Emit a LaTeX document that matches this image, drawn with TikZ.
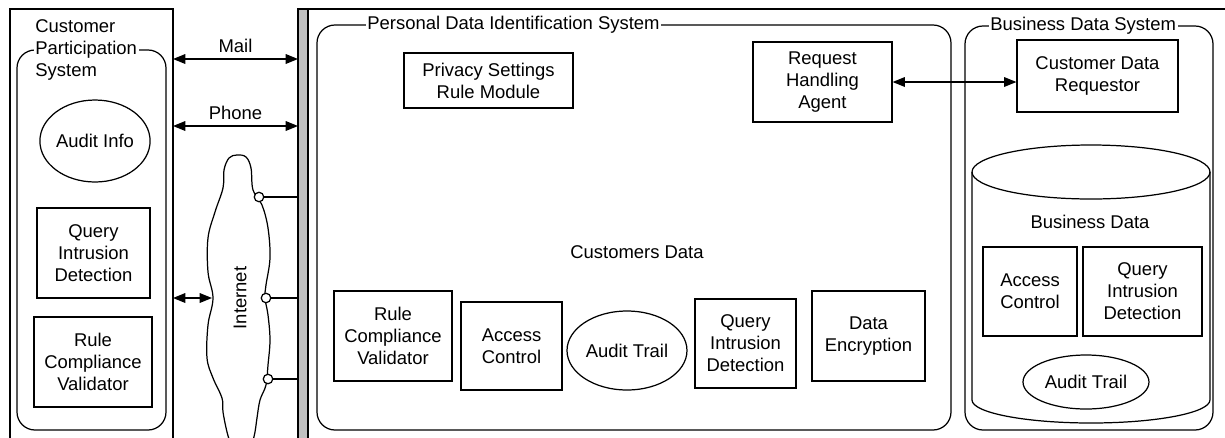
\documentclass[tikz,border=0pt]{standalone}
\usepackage{fontspec}
\setmainfont{Liberation Sans}
\usetikzlibrary{positioning,arrows.meta,shapes.geometric}
\definecolor{bargray}{RGB}{192,192,192}

\begin{document}
\begin{tikzpicture}[x=0.02cm,y=-0.02cm,>={Triangle[length=7pt,width=5.5pt]},
        line width=0.7pt,font=\fontsize{10.5}{12.6}\selectfont,
        main node/.style={rectangle,draw,align=center,inner sep=0pt},
        oval node/.style={ellipse,draw,align=center,inner sep=0pt},
        group/.style={draw,rounded corners=0.36cm},
        group label/.style={fill=white,inner sep=1pt,anchor=west},
        port/.style={circle,draw,fill=white,minimum size=0.19cm,inner sep=0pt}]

    \useasboundingbox (0,0) rectangle (1225,437);
    \clip (0,0) rectangle (1225,437);

    % frames and gray wall
    \draw (10,445) -- (10,9) -- (173,9) -- (173,445);
    \draw[fill=bargray] (298,445) -- (298,9) -- (308,9) -- (308,445);
    \draw (308,9) -- (1230,9);

    % customer participation system
    \draw[group] (17,430) rectangle (166,50);
    \node[group label,align=left] (cps) at (33,50) {Customer\\Participation\\System};
    \node[oval node,minimum width=2.08cm,minimum height=1.64cm] (auditinfo) at (95,141) {Audit Info};
    \node[main node,minimum width=2.26cm,minimum height=1.8cm] (qidL) at (93.5,253) {Query\\Intrusion\\Detection};
    \node[main node,minimum width=2.36cm,minimum height=1.8cm] (rcvL) at (93,362) {Rule\\Compliance\\Validator};

    % personal data identification system
    \draw[group] (317,25) rectangle (951,430);
    \node[group label] (pdis) at (365,25) {Personal Data Identification System};
    \node[main node,minimum width=3.38cm,minimum height=1.1cm] (privacy) at (488.5,80.5) {Privacy Settings\\Rule Module};
    \node[main node,minimum width=2.78cm,minimum height=1.6cm] (rha) at (822.5,82) {Request\\Handling\\Agent};
    \node (custdata) at (637,252) {Customers Data};
    \node[main node,minimum width=2.36cm,minimum height=1.8cm] (rcv) at (393,336) {Rule\\Compliance\\Validator};
    \node[main node,minimum width=2.02cm,minimum height=1.76cm] (ac) at (511.5,346) {Access\\Control};
    \node[oval node,minimum width=2.4cm,minimum height=1.58cm] (trail) at (627,350.5) {Audit Trail};
    \node[main node,minimum width=2.02cm,minimum height=1.78cm] (qid) at (745.5,343.5) {Query\\Intrusion\\Detection};
    \node[main node,minimum width=2.26cm,minimum height=1.8cm] (de) at (868.5,336) {Data\\Encryption};

    % business data system
    \draw[group] (965,26) rectangle (1213,430);
    \node[group label] (bds) at (988,26) {Business Data System};
    \node[main node,minimum width=3.22cm,minimum height=1.44cm] (cdr) at (1097.5,76) {Customer Data\\Requestor};
    \draw (1091,172) ellipse [x radius=2.38cm,y radius=0.54cm];
    \draw (972,172) -- (972,400) arc[start angle=180,end angle=360,x radius=2.38cm,y radius=0.46cm] -- (1210,172);
    \node (bizdata) at (1090,222) {Business Data};
    \node[main node,minimum width=1.88cm,minimum height=1.78cm] (bac) at (1030,291.5) {Access\\Control};
    \node[main node,minimum width=2.38cm,minimum height=1.78cm] (bqid) at (1142.5,291.5) {Query\\Intrusion\\Detection};
    \node[oval node,minimum width=2.52cm,minimum height=1.08cm] (btrail) at (1086,382) {Audit Trail};

    % internet cloud
    \draw[fill=white] plot[smooth,tension=0.6] coordinates {(231,445) (227,432) (223,412) (222,398)
        (213,378) (207,358) (208,325) (213,298) (208,272) (208,238) (215,212) (223,188) (224,170)
        (229,158) (237,155) (246,157) (251,168) (253,190) (262,205) (268,228) (270,258) (266,285)
        (265,298) (268,315) (270,340) (268,365) (266,385) (260,400) (257,418) (255,432) (252,445)};
    \node[rotate=90] (internet) at (240,298) {Internet};
    \node[port] (p1) at (259,197) {};
    \node[port] (p2) at (266,298) {};
    \node[port] (p3) at (268,379) {};

    \coordinate (wall) at (298,0);
    \coordinate (mailL) at (173,59);
    \coordinate (phoneL) at (173,126);
    \coordinate (netL) at (173,298);
    \coordinate (netR) at (212,298);

    \draw (p1.east) -- (p1 -| wall);
    \draw (p2.east) -- (p2 -| wall);
    \draw (p3.east) -- (p3 -| wall);

    \draw[<->] (mailL) -- node[above] {Mail} (mailL -| wall);
    \draw[<->] (phoneL) -- node[above] {Phone} (phoneL -| wall);
    \draw[<->] (netL) -- (netR);
    \draw[<->] (rha.east) -- (rha.east -| cdr.west);

\end{tikzpicture}
\end{document}
